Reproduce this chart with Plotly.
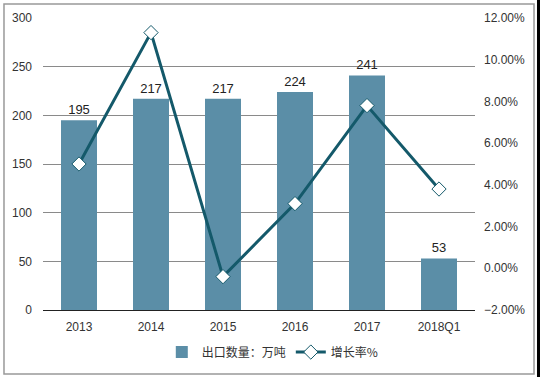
import plotly.graph_objects as go

categories = ["2013", "2014", "2015", "2016", "2017", "2018Q1"]
export_volume = [195, 217, 217, 224, 241, 53]
growth_rate = [5.0, 11.3, -0.4, 3.1, 7.8, 3.8]

bar_color = "#5b8ea7"
line_color = "#14596a"
font_main = "Liberation Sans, Arial, Noto Sans CJK SC, sans-serif"

fig = go.Figure()
fig.add_trace(go.Bar(
    x=categories, y=export_volume, name="出口数量：万吨",
    marker=dict(color=bar_color, line=dict(width=0)),
    text=[str(v) for v in export_volume], textposition="outside",
    textfont=dict(size=13, color="#222222"), cliponaxis=False,
))
fig.add_trace(go.Scatter(
    x=categories, y=growth_rate, name="增长率%", yaxis="y2",
    mode="lines+markers",
    line=dict(color=line_color, width=3),
    marker=dict(symbol="diamond", size=11, color="white",
                line=dict(color=line_color, width=1)),
))

fig.update_layout(
    width=540, height=377,
    margin=dict(l=43, r=65, t=18, b=67, autoexpand=False),
    paper_bgcolor="white", plot_bgcolor="white",
    font=dict(family=font_main, size=12, color="#333333"),
    bargap=0.5,
    showlegend=True,
    legend=dict(orientation="h", x=0.275, xanchor="left", y=-0.144, yanchor="middle",
                font=dict(family="Noto Sans CJK SC, sans-serif", size=12, color="#333333"),
                itemwidth=30, tracegroupgap=0, bgcolor="rgba(0,0,0,0)"),
    xaxis=dict(showgrid=False, showline=True, linecolor="#222222", linewidth=1,
               ticks="", tickfont=dict(size=12, color="#333333"), ticklabelstandoff=6),
    yaxis=dict(range=[0, 300], dtick=50, showgrid=True, gridcolor="#8a8a8a", gridwidth=1,
               zeroline=False, showline=False, ticks="",
               tickfont=dict(size=12, color="#333333"), ticklabelstandoff=10),
    yaxis2=dict(range=[-2, 12], dtick=2, overlaying="y", side="right",
                showgrid=False, zeroline=False, showline=False, ticks="",
                tickformat=".2f", ticksuffix="%",
                tickfont=dict(size=12, color="#333333"), ticklabelstandoff=8),
    shapes=[
        dict(type="rect", xref="paper", yref="paper",
             x0=-0.0903, x1=1.1366, y0=-0.219, y1=1.048,
             line=dict(color="#999999", width=1.5)),
        dict(type="rect", xref="paper", yref="paper",
             x0=1.1435, x1=1.16, y0=-0.25, y1=1.07,
             fillcolor="black", line=dict(width=0)),
    ],
)

fig.write_html("out.html", config={"displayModeBar": False},
               post_script="document.body.style.margin='0';")
